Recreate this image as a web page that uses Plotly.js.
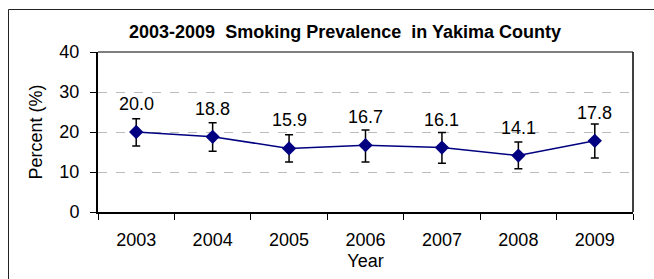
<!DOCTYPE html>
<html>
<head>
<meta charset="utf-8">
<script src="https://cdn.plot.ly/plotly-3.0.1.min.js"></script>
<style>html,body{margin:0;padding:0;background:#fff;}#chart{width:654px;height:279px;}</style>
</head>
<body>
<div id="chart"></div>
<script>
const years = ['2003', '2004', '2005', '2006', '2007', '2008', '2009'];
const prevalence = [20.0, 18.8, 15.9, 16.7, 16.1, 14.1, 17.8];
const errorPlus = [3.3, 3.5, 3.4, 3.8, 3.8, 3.4, 4.2];
const errorMinus = [3.5, 3.6, 3.4, 4.2, 3.9, 3.3, 4.3];
const yTicks = [0, 10, 20, 30, 40];
const labels = prevalence.map(v => v.toFixed(1));

const FONT = 'Arial, "Liberation Sans", sans-serif';
const L = 98, R = 633, T = 52, B = 212, W = 654, H = 279;
const pw = R - L, ph = B - T;
const px = x => (x - L) / pw;
const py = y => (B - y) / ph;

const trace = {
  type: 'scatter',
  mode: 'lines+markers',
  x: years,
  y: prevalence,
  line: {color: '#000080', width: 1.5},
  marker: {symbol: 'diamond', size: 11, color: '#000080'},
  error_y: {
    type: 'data', symmetric: false,
    array: errorPlus, arrayminus: errorMinus,
    color: '#000000', thickness: 1.5, width: 4
  },
  hoverinfo: 'skip'
};

const annotations = years.map((yr, i) => ({
  x: i, y: prevalence[i], xref: 'x', yref: 'y',
  text: labels[i], showarrow: false, yshift: 28,
  xanchor: 'center', yanchor: 'middle',
  font: {family: FONT, size: 18, color: '#000'}
}));

const layout = {
  width: W, height: H,
  margin: {l: L, r: W - R, t: T, b: H - B, pad: 0},
  paper_bgcolor: '#fff', plot_bgcolor: '#fff',
  showlegend: false,
  title: {
    text: '2003-2009\u00a0 Smoking Prevalence\u00a0 in Yakima County',
    font: {family: FONT, size: 18, color: '#000', weight: 'bold'},
    xref: 'container', yref: 'container',
    x: 345 / W, y: 1 - 32 / H, xanchor: 'center', yanchor: 'middle'
  },
  xaxis: {
    type: 'category', range: [-0.5, 6.5], tickson: 'boundaries',
    ticks: 'outside', ticklen: 6, tickwidth: 1, tickcolor: '#000',
    showline: true, linecolor: '#000', linewidth: 2,
    showgrid: false, zeroline: false,
    tickfont: {family: FONT, size: 18, color: '#000'},
    ticklabelstandoff: 10,
    title: {text: 'Year', font: {family: FONT, size: 18, color: '#000'}, standoff: 6},
    fixedrange: true
  },
  yaxis: {
    range: [0, 40], tickvals: yTicks, ticktext: yTicks.map(String),
    ticks: 'outside', ticklen: 6, tickwidth: 1, tickcolor: '#000',
    showline: true, linecolor: '#000', linewidth: 2,
    showgrid: true, gridcolor: '#bcbcbc', griddash: 'dash', gridwidth: 1,
    zeroline: false,
    tickfont: {family: FONT, size: 18, color: '#000'},
    ticklabelstandoff: 7,
    title: {text: 'Percent (%)', font: {family: FONT, size: 18, color: '#000'}, standoff: 12},
    fixedrange: true
  },
  annotations: annotations,
  shapes: [
    {type: 'line', xref: 'paper', yref: 'paper', x0: 0, x1: 1, y0: 1, y1: 1, line: {color: '#000', width: 1}},
    {type: 'line', xref: 'paper', yref: 'paper', x0: 1, x1: 1, y0: 0, y1: 1, line: {color: '#000', width: 1.5}},
    {type: 'rect', xref: 'paper', yref: 'paper', layer: 'below',
     x0: px(8.5), x1: px(700), y0: py(320), y1: py(9.5), line: {color: '#222', width: 1}}
  ]
};

Plotly.newPlot('chart', [trace], layout, {staticPlot: true, displayModeBar: false});
</script>
</body>
</html>
